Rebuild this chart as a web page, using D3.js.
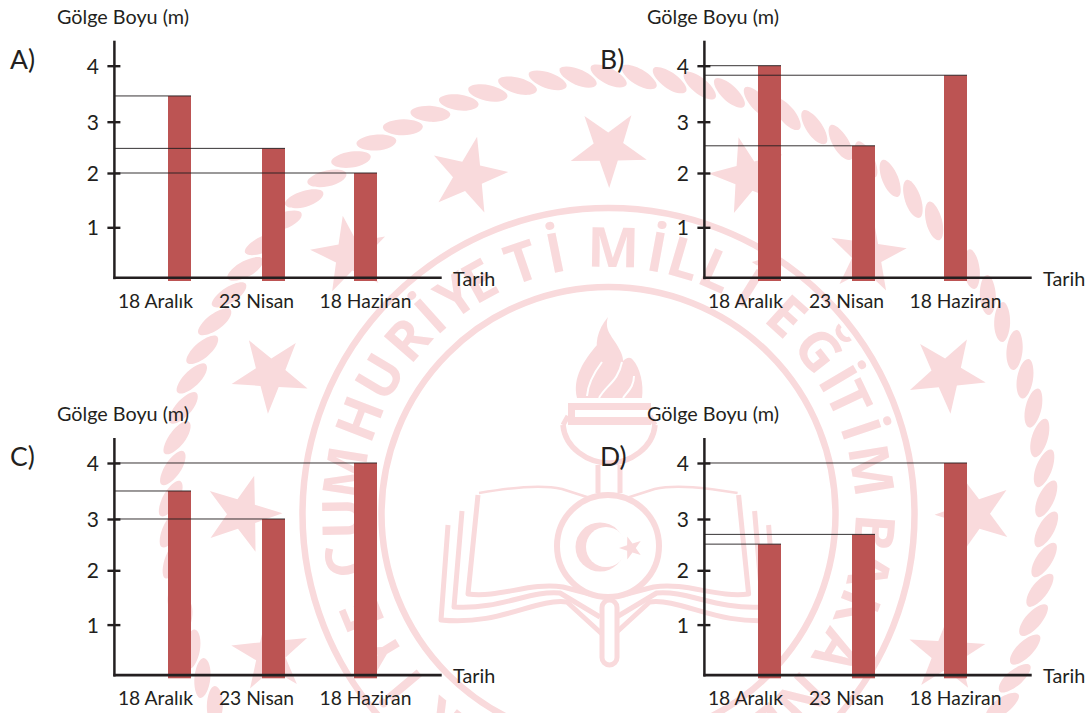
<!DOCTYPE html>
<html><head><meta charset="utf-8">
<script src="https://cdn.jsdelivr.net/npm/d3@7/dist/d3.min.js"></script>
<style>html,body{margin:0;padding:0;background:#fff}svg{display:block}text{font-family:Lato,"Open Sans",sans-serif;fill:#231f20}</style>
</head><body><svg id="c" width="1088" height="713"></svg>
<script>
const categories = ["18 Aralık","23 Nisan","18 Haziran"];
const tickValues = [1,2,3,4];
const panelNames = ["A)","B)","C)","D)"];
const valuesA = [3.46,2.48,2.0];
const valuesB = [4.0,2.53,3.83];
const valuesC = [3.5,3.0,4.0];
const valuesD = [2.51,2.70,4.0];
const yTitle = "Gölge Boyu (m)";
const xTitle = "Tarih";
const sealLetters = ["K","İ","Y","E","C","U","M","H","U","R","İ","Y","E","T","İ","M","İ","L","L","Î","E","Ğ","İ","T","İ","M","B","A","K","A","N","L"];
const sealAngles = [219,230,238.6,247.7,260,269,279,291,301,311,318,325,331,341,348.5,1,10.5,16.5,24,32,42,52,59.5,64.5,71.5,80.5,94,102,111,121,133.7,142];
const panels = [
 {name:panelNames[0],values:valuesA,dx:0,dy:0},
 {name:panelNames[1],values:valuesB,dx:590,dy:0},
 {name:panelNames[2],values:valuesC,dx:0,dy:397.3},
 {name:panelNames[3],values:valuesD,dx:590,dy:397.3}];

const svg = d3.select("#c");
const pink = "#f9dadc", ink = "#231f20", barColor = "#bc5453";

// ---- watermark seal
const seal = svg.append("g").attr("id","seal");
const cx = 608.5, cy = 514;
const ring = seal.append("g").attr("transform",`translate(${cx},${cy})`);
ring.selectAll("circle.r").data([306,227]).join("circle").attr("r",d=>d)
  .attr("fill","none").attr("stroke",pink).attr("stroke-width",6.5);
ring.selectAll("path.bead").data(d3.range(0,360,4)).join("path")
  .attr("d","M-20,0C-20,-4 -9,-8 1,-8C11,-8 20,-5 20,-1C20,4 10,8 0,8C-10,8 -20,5 -20,0Z")
  .attr("fill",pink).attr("transform",a=>`rotate(${a}) translate(0,-438) rotate(29)`);
const star = (R,r)=>d3.range(10).map(i=>{const t=i*Math.PI/5,q=i%2?r:R;return [q*Math.sin(t),-q*Math.cos(t)];});
const starPath = (R,r)=>"M"+star(R,r).join("L")+"Z";
ring.selectAll("path.st").data(d3.range(0,360,22.5)).join("path")
  .attr("d",starPath(40,15.5)).attr("fill",pink)
  .attr("transform",a=>`rotate(${a}) translate(0,-366) rotate(35)`);
ring.selectAll("text.l").data(sealLetters).join("text")
  .text(d=>d).attr("text-anchor","middle").attr("font-size",55)
  .style("font-family","'Open Sans',sans-serif").style("font-weight",700).style("fill",pink)
  .attr("transform",(d,i)=>`rotate(${sealAngles[i]}) translate(0,-247)`);

const em = seal.append("g");
const P=(d,o={})=>em.append("path").attr("d",d).attr("fill",o.fill||"none")
  .attr("stroke",o.stroke||(o.fill?"none":pink)).attr("stroke-width",o.w||4).attr("stroke-linejoin","round");
// flame
P("M577,398C572,378 584,360 597,345C598,350 598,354 599,358C594,345 597,330 608,317C604,330 612,336 617,345C621,352 623,356 623,361C626,358 630,356 633,360C640,368 644,384 642,398Z",{fill:pink});
P("M587,396C588,382 596,370 602,362",{stroke:"#fff",w:2});
P("M599,398C606,385 618,382 622,362",{stroke:"#fff",w:2});
P("M623,398C629,390 634,386 634,376",{stroke:"#fff",w:2});
// cup
em.append("rect").attr("x",568).attr("y",403).attr("width",83).attr("height",22).attr("fill",pink);
em.append("rect").attr("x",575).attr("y",410).attr("width",74).attr("height",7).attr("fill","#fff");
P("M563,425C565,448 588,463 609,463C630,463 653,448 655,425",{w:5.5});
P("M563,425L568,416M655,425L650,416",{w:5});
P("M598,465V493M620,465V493",{w:5});
// book: mirrored page outlines
[[1,0],[-1,1216.6]].forEach(([s,t])=>{
  const g=`matrix(${s},0,0,1,${t},0)`;
  const Q=d=>P(d,{w:5}).attr("transform",g);
  Q("M478,495L468,594C500,598 530,582 563,587L590,594");
  Q("M462,511L454,607C500,610 530,590 560,593L600,617");
  Q("M448,525L441,620C500,626 535,598 567,602L602,634");
  P("M479,493C510,488 540,484 562,489L590,498",{w:2.5}).attr("transform",g);
});
em.append("rect").attr("x",602).attr("y",600).attr("width",15).attr("height",65).attr("rx",7.5)
  .attr("fill","#fff").attr("stroke",pink).attr("stroke-width",5);
em.append("circle").attr("cx",608).attr("cy",546).attr("r",51).attr("fill","#fff").attr("stroke",pink).attr("stroke-width",6);
em.append("circle").attr("cx",600).attr("cy",547).attr("r",24.5).attr("fill",pink);
em.append("circle").attr("cx",606).attr("cy",547).attr("r",20).attr("fill","#fff");
em.append("path").attr("d",starPath(12,4.8)).attr("fill",pink).attr("transform","translate(631,548) rotate(-18)");

// ---- panels
const xBar = d3.scaleOrdinal().domain(categories).range([179.5,273.5,365.5]);
const xLabel = d3.scaleOrdinal().domain(categories).range([155.5,256.5,365.5]);
const y = d3.scaleLinear().domain([0,1,2,3,4]).range([281,227.3,173,121.7,65.7]);
const barW = 23, axisX = 114.4, axisY = 277.8;

panels.forEach(p=>{
  const g = svg.append("g").attr("transform",`translate(${p.dx},${p.dy})`);
  const rows = categories.map((c,i)=>({c,v:p.values[i]}));
  g.selectAll("rect.bar").data(rows).join("rect").attr("class","bar")
    .attr("x",d=>xBar(d.c)-barW/2).attr("width",barW)
    .attr("y",d=>y(d.v)).attr("height",d=>y(0)-y(d.v)).attr("fill",barColor);
  g.selectAll("line.ref").data(rows).join("line").attr("class","ref")
    .attr("x1",axisX).attr("x2",d=>xBar(d.c)+barW/2)
    .attr("y1",d=>y(d.v)).attr("y2",d=>y(d.v))
    .attr("stroke",ink).attr("stroke-width",1).attr("opacity",.9);
  const ax = g.append("g").attr("transform",`translate(${axisX},0)`)
    .call(d3.axisLeft(y).tickValues(tickValues).tickFormat(d3.format("d")).tickSize(7).tickPadding(8));
  ax.select(".domain").remove();
  ax.selectAll(".tick line").attr("x1",-7).attr("x2",6).attr("stroke",ink).attr("stroke-width",2.4);
  ax.selectAll(".tick text").attr("font-size",21).attr("x",-21.5).attr("text-anchor","middle").attr("dy","0.36em")
    .style("font-family","Lato,sans-serif").style("fill",ink);
  g.append("line").attr("x1",axisX).attr("x2",axisX).attr("y1",40.7).attr("y2",279.2).attr("stroke",ink).attr("stroke-width",2.5);
  g.append("line").attr("x1",axisX-1).attr("x2",441.7).attr("y1",axisY).attr("y2",axisY).attr("stroke",ink).attr("stroke-width",2.6);
  g.selectAll("text.cat").data(categories).join("text").attr("class","cat")
    .attr("x",d=>xLabel(d)).attr("y",307.5).attr("text-anchor","middle").attr("font-size",19.3).text(d=>d);
  g.append("text").attr("x",57).attr("y",24).attr("font-size",19.8).text(yTitle);
  g.append("text").attr("x",453).attr("y",286).attr("font-size",19.8).text(xTitle);
  g.append("text").attr("x",10).attr("y",68.5).attr("font-size",26.5).text(p.name);
});
</script></body></html>
